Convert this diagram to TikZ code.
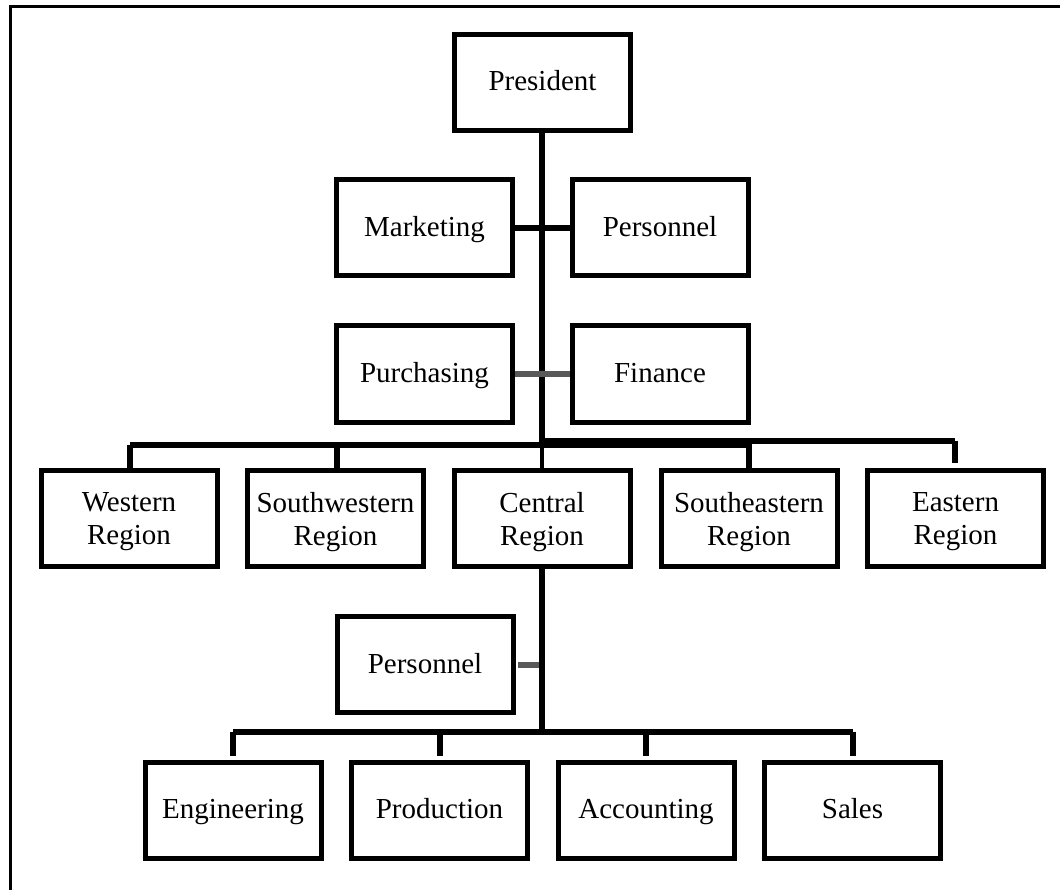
\documentclass[tikz,border=0pt]{standalone}
\usepackage{fontspec}
\setmainfont{Liberation Serif}
\begin{document}
\begin{tikzpicture}[x=1pt,y=-1pt,
  basebox/.style={draw=black, line width=5pt, fill=white, minimum width=176pt, minimum height=96pt, align=center, inner sep=0pt, font=\fontsize{29}{33}\selectfont},
  orgbox/.style={basebox, text height=22pt, text depth=5pt},
  twobox/.style={basebox},
  twotext/.style={align=center, inner sep=0pt, font=\fontsize{29}{33}\selectfont},
  link/.style={draw=black, line width=6pt},
  thinlink/.style={draw=black, line width=3.5pt},
  graylink/.style={draw=black!65, line width=6pt},
  frameline/.style={draw=black, line width=3pt}]
\useasboundingbox (0,0) rectangle (1060,890);
% frame
\coordinate (fTL) at (10,7);
\coordinate (fTR) at (1062,7);
\coordinate (fBL) at (10,892);
\draw[frameline] (fTR) -- (fTL) -- (fBL);
% coordinates for buses
\coordinate (busC) at (542,444.5);
\coordinate (busL) at (130,444.5);
\coordinate (busM) at (749,444.5);
\coordinate (busR0) at (542,440.5);
\coordinate (busR) at (955,440.5);
\coordinate (dSW) at (337,444.5);
\coordinate (dSE) at (749,440.5);
\coordinate (eastEnd) at (955,463);
\coordinate (sub) at (542,731.5);
\coordinate (subL) at (233,731.5);
\coordinate (subR) at (852.5,731.5);
\coordinate (dP) at (439.5,731.5);
\coordinate (dA) at (646,731.5);
\coordinate (eEnd) at (233,756);
\coordinate (pEnd) at (439.5,756);
\coordinate (aEnd) at (646,756);
\coordinate (sEnd) at (852.5,756);
\coordinate (stubA) at (518,665);
\coordinate (stubB) at (539,665);
% connectors (drawn first)
\draw[link] (542,133) -- (busC);
\draw[link] (busL) -- (busM);
\draw[link] (busR0) -- (busR);
\draw[link] (busL) -- (130,468);
\draw[link] (dSW) -- (337,468);
\draw[thinlink] (busC) -- (542,468);
\draw[link] (dSE) -- (749,468);
\draw[link] (busR) -- (eastEnd);
\draw[link] (542,568) -- (sub);
\draw[link] (subL) -- (subR);
\draw[link] (subL) -- (eEnd);
\draw[link] (dP) -- (pEnd);
\draw[link] (dA) -- (aEnd);
\draw[link] (subR) -- (sEnd);
% nodes
\node[orgbox] (pres) at (542.5,82.5) {President};
\node[orgbox] (mkt) at (424.5,228) {Marketing};
\node[orgbox] (pers) at (660,228) {Personnel};
\node[orgbox] (purch) at (424.5,374) {Purchasing};
\node[orgbox] (fin) at (660,374) {Finance};
\node[twobox] (west) at (129,518) {};
\node[twotext] at ([yshift=-4pt]west.center) {Western\\Region};
\node[twobox] (swest) at (335.5,518) {};
\node[twotext] at ([yshift=-4pt]swest.center) {Southwestern\\Region};
\node[twobox] (cent) at (542,518) {};
\node[twotext] at ([yshift=-4pt]cent.center) {Central\\Region};
\node[twobox] (seast) at (749,518) {};
\node[twotext] at ([yshift=-4pt]seast.center) {Southeastern\\Region};
\node[twobox] (east) at (955.5,518) {};
\node[twotext] at ([yshift=-4pt]east.center) {Eastern\\Region};
\node[orgbox] (pers2) at (425,664.5) {Personnel};
\node[orgbox] (eng) at (233,810) {Engineering};
\node[orgbox] (prod) at (439.5,810) {Production};
\node[orgbox] (acc) at (646,810) {Accounting};
\node[orgbox] (sales) at (852.5,810) {Sales};
% side links
\draw[link] (mkt.east) -- (pers.west);
\draw[graylink] (purch.east) -- (fin.west);
\draw[graylink] (stubA) -- (stubB);
\end{tikzpicture}
\end{document}
